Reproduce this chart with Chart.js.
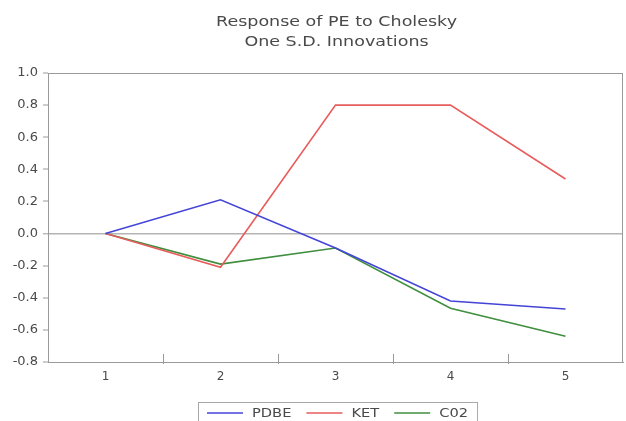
<!DOCTYPE html>
<html>
<head>
<meta charset="utf-8">
<script src="https://cdn.jsdelivr.net/npm/chart.js@4"></script>
<style>
  html, body { margin: 0; padding: 0; background: #fff; }
  canvas { display: block; }
</style>
</head>
<body>
<canvas id="chart" width="626" height="421"></canvas>
<script>
// Impulse responses of PE over five periods
const periods = ['1', '2', '3', '4', '5'];
const pdbe = [0.0, 0.21, -0.09, -0.42, -0.47];
const ket  = [0.0, -0.21, 0.80, 0.80, 0.34];
const c02  = [0.0, -0.19, -0.09, -0.465, -0.64];
const seriesNames = ['PDBE', 'KET', 'C02'];
const seriesColors = ['#4444d8', '#e85c5c', '#3f8f3f'];
const titleLines = ['Response of PE to Cholesky', 'One S.D. Innovations'];
const yMin = -0.8, yMax = 1.0, yStep = 0.2;

const axisGray = '#9a9a9a';
const textGray = '#4a4a4a';

// Two-line heading, slightly widened lettering
const headingPlugin = {
  id: 'heading',
  afterDraw(chart) {
    const { ctx, chartArea: a } = chart;
    const stretch = 1.25;
    const cx = (a.left + a.right) / 2 + 1;
    ctx.save();
    ctx.font = '14px "DejaVu Sans"';
    ctx.fillStyle = textGray;
    ctx.textBaseline = 'middle';
    titleLines.forEach((line, i) => {
      const w = ctx.measureText(line).width * stretch;
      ctx.save();
      ctx.translate(cx - w / 2, 22 + i * 20);
      ctx.scale(stretch, 1);
      ctx.fillText(line, 0, 0);
      ctx.restore();
    });
    ctx.restore();
  }
};

// Frame around the plot, inward ticks between periods
const framePlugin = {
  id: 'frame',
  afterDraw(chart) {
    const { ctx, chartArea: a, scales } = chart;
    ctx.save();
    ctx.strokeStyle = axisGray;
    ctx.lineWidth = 1;
    ctx.strokeRect(Math.round(a.left) + 0.5, Math.round(a.top) + 0.5,
                   Math.round(a.right - a.left) - 1, Math.round(a.bottom - a.top));
    const xs = scales.x;
    for (let i = 0; i < periods.length - 1; i++) {
      const px = Math.round(xs.getPixelForValue(i + 0.5)) + 0.5;
      ctx.beginPath();
      ctx.moveTo(px, a.bottom - 8);
      ctx.lineTo(px, a.bottom + 2);
      ctx.stroke();
    }
    ctx.restore();
  }
};

// Boxed legend below the axis
const boxLegendPlugin = {
  id: 'boxLegend',
  afterDraw(chart) {
    const { ctx, chartArea: a } = chart;
    const ds = chart.data.datasets;
    const lineLen = 36, gapLine = 9, gapItem = 15, stretch = 1.22;
    ctx.save();
    ctx.font = '12px "DejaVu Sans"';
    const widths = ds.map(d => ctx.measureText(d.label).width * stretch);
    let total = 0;
    widths.forEach((w, i) => { total += lineLen + gapLine + w + (i < ds.length - 1 ? gapItem : 0); });
    const cx = (a.left + a.right) / 2 + 2;
    let x = Math.round(cx - total / 2);
    const boxLeft = x - 9, boxRight = x + total + 9;
    const top = 402, y = 413;
    ctx.strokeStyle = '#a8a8a8';
    ctx.lineWidth = 1;
    ctx.strokeRect(boxLeft + 0.5, top + 0.5, boxRight - boxLeft, 40);
    ds.forEach((d, i) => {
      ctx.strokeStyle = d.borderColor;
      ctx.lineWidth = 1.5;
      ctx.beginPath();
      ctx.moveTo(x, y);
      ctx.lineTo(x + lineLen, y);
      ctx.stroke();
      x += lineLen + gapLine;
      ctx.save();
      ctx.translate(x, y);
      ctx.scale(stretch, 1);
      ctx.fillStyle = textGray;
      ctx.textBaseline = 'middle';
      ctx.fillText(d.label, 0, 1);
      ctx.restore();
      x += widths[i] + gapItem;
    });
    ctx.restore();
  }
};

const yTickValues = [];
for (let v = yMin; v <= yMax + 1e-9; v += yStep) yTickValues.push(Math.round(v * 10) / 10);

new Chart(document.getElementById('chart'), {
  type: 'line',
  data: {
    labels: periods,
    datasets: [pdbe, ket, c02].map((vals, i) => ({
      label: seriesNames[i],
      data: vals,
      borderColor: seriesColors[i],
      backgroundColor: seriesColors[i],
      borderWidth: 1.6,
      pointRadius: 0,
      tension: 0,
      fill: false
    }))
  },
  options: {
    responsive: false,
    animation: false,
    layout: { padding: { left: 0, right: 3, top: 73, bottom: 0 } },
    plugins: {
      legend: { display: false },
      tooltip: { enabled: false },
      title: { display: false }
    },
    scales: {
      x: {
        offset: true,
        grid: { display: false, drawTicks: false },
        border: { display: true, color: axisGray },
        ticks: {
          color: textGray,
          font: { family: '"DejaVu Sans"', size: 12 },
          padding: 8
        },
        afterFit(scale) { scale.height = 59; }
      },
      y: {
        min: yMin,
        max: yMax,
        afterBuildTicks(scale) { scale.ticks = yTickValues.map(v => ({ value: v })); },
        grid: {
          drawOnChartArea: true,
          color: c => (c.tick && Math.abs(c.tick.value) < 1e-9 ? '#b4b4b4' : 'rgba(0,0,0,0)'),
          lineWidth: c => (c.tick && Math.abs(c.tick.value) < 1e-9 ? 1.6 : 0),
          tickColor: axisGray,
          tickLength: 5,
          tickWidth: 1
        },
        border: { display: true, color: axisGray },
        ticks: {
          color: textGray,
          font: { family: '"DejaVu Sans"', size: 13 },
          padding: 5,
          callback: v => Number(v).toFixed(1)
        },
        afterFit(scale) { scale.width = 48; }
      }
    }
  },
  plugins: [headingPlugin, framePlugin, boxLegendPlugin]
});
</script>
</body>
</html>
